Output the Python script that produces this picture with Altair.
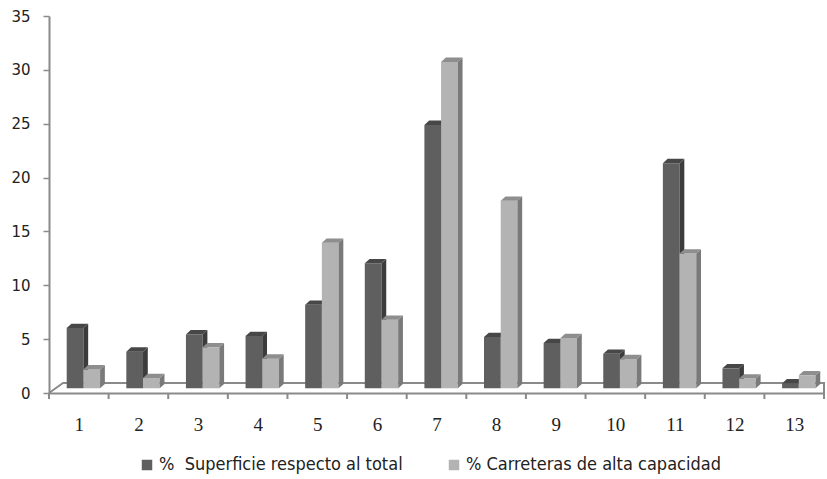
import altair as alt
import pandas as pd

# Category labels and the two series (%)
categories = [str(i) for i in range(1, 14)]
superficie = [5.6, 3.4, 5.0, 4.85, 7.75, 11.6, 24.45, 4.75, 4.2, 3.2, 20.9, 1.85, 0.45]
carreteras = [1.75, 0.95, 3.8, 2.75, 13.5, 6.35, 30.3, 17.4, 4.65, 2.7, 12.5, 0.9, 1.2]

series_names = ["%\u00a0 Superficie respecto al total", "% Carreteras de alta capacidad"]
front_colors = ["#5f5f5f", "#b3b3b3"]
side_colors = ["#3c3c3c", "#7a7a7a"]
top_colors = ["#474747", "#8e8e8e"]

# Pseudo-3D geometry, in scale units
BAR_START = 0.297   # offset of the first column inside its category slot
BAR_W = 0.28        # column width
DEPTH_X = 0.08      # horizontal depth of side/top faces
DEPTH_Y = 0.40      # vertical depth of side/top faces
BASE = 0.44         # columns stand in the middle of the floor
FLOOR_X = 0.235
FLOOR_Y = 0.93

W, H = 775, 377
AXIS_GREY = "#8a8a8a"

x_scale = alt.Scale(domain=[0, len(categories)], nice=False, zero=False)
y_scale = alt.Scale(domain=[0, 35], nice=False)

x_axis = alt.Axis(
    values=[i + 0.5 for i in range(len(categories))],
    labelExpr="format(datum.value + 0.5, 'd')",
    ticks=False, grid=False, title=None,
    domainColor=AXIS_GREY, domainWidth=2,
    labelFont="Liberation Serif", labelFontSize=19, labelColor="#222222",
    labelPadding=22,
)
y_axis = alt.Axis(
    values=list(range(0, 36, 5)), grid=False, title=None,
    tickSize=6, tickColor=AXIS_GREY, tickWidth=1.5,
    domainColor=AXIS_GREY, domainWidth=2,
    labelFont="DejaVu Sans", labelFontSize=15, labelColor="#222222",
    labelPadding=13,
)
color_scale = alt.Scale(domain=series_names, range=front_colors)

front_rows, side_rows, top_rows = [], [], []
for s, values in enumerate([superficie, carreteras]):
    for i, v in enumerate(values):
        x0 = i + BAR_START + s * BAR_W
        x1 = x0 + BAR_W
        top = BASE + v
        bar = f"{s}-{i}"
        front_rows.append(dict(s=s, serie=series_names[s], cat=categories[i],
                               x0=x0, x1=x1, y0=BASE, y1=top))
        side_rows += [
            dict(s=s, bar=bar, x=x1, y=BASE, y2=top),
            dict(s=s, bar=bar, x=x1 + DEPTH_X, y=BASE + DEPTH_Y, y2=top + DEPTH_Y),
        ]
        top_rows += [
            dict(s=s, bar=bar, x=x0, y=top, y2=top),
            dict(s=s, bar=bar, x=x0 + DEPTH_X, y=top, y2=top + DEPTH_Y),
            dict(s=s, bar=bar, x=x1, y=top, y2=top + DEPTH_Y),
            dict(s=s, bar=bar, x=x1 + DEPTH_X, y=top + DEPTH_Y, y2=top + DEPTH_Y),
        ]

front_df = pd.DataFrame(front_rows)
side_df = pd.DataFrame(side_rows)
top_df = pd.DataFrame(top_rows)

n = len(categories)
floor_df = pd.DataFrame({
    "x": [0, FLOOR_X, n, n],
    "y": [0, FLOOR_Y, FLOOR_Y, 0],
    "k": [0, 1, 2, 3],
})
ticks_df = pd.DataFrame({"t": list(range(n + 1))})

floor = alt.Chart(floor_df).mark_line(color=AXIS_GREY, strokeWidth=2).encode(
    x=alt.X("x:Q", scale=x_scale, axis=x_axis),
    y=alt.Y("y:Q", scale=y_scale, axis=y_axis),
    order="k:Q",
)
x_ticks = alt.Chart(ticks_df).mark_rule(color=AXIS_GREY, strokeWidth=2).encode(
    x=alt.X("t:Q", scale=x_scale, axis=x_axis),
    y=alt.value(H),
    y2=alt.value(H + 6),
)

layers = [floor, x_ticks]
for s in range(2):
    front = alt.Chart(front_df[front_df.s == s]).mark_rect().encode(
        x=alt.X("x0:Q", scale=x_scale, axis=x_axis),
        x2="x1:Q",
        y=alt.Y("y0:Q", scale=y_scale, axis=y_axis),
        y2="y1:Q",
        color=alt.Color("serie:N", scale=color_scale, title=None),
    )
    side = alt.Chart(side_df[side_df.s == s]).mark_area(
        orient="vertical", color=side_colors[s]
    ).encode(
        x=alt.X("x:Q", scale=x_scale, axis=x_axis),
        y=alt.Y("y:Q", scale=y_scale, axis=y_axis, stack=None),
        y2="y2:Q",
        detail="bar:N",
    )
    cap = alt.Chart(top_df[top_df.s == s]).mark_area(
        orient="vertical", color=top_colors[s]
    ).encode(
        x=alt.X("x:Q", scale=x_scale, axis=x_axis),
        y=alt.Y("y:Q", scale=y_scale, axis=y_axis, stack=None),
        y2="y2:Q",
        detail="bar:N",
    )
    layers += [front, side, cap]

chart = alt.layer(*layers).properties(
    width=W,
    height=H,
    padding={"left": 49, "top": 16, "right": 3, "bottom": 86},
    autosize=alt.AutoSizeParams(type="none"),
    background="white",
).configure_view(
    stroke=None
).configure_legend(
    orient="none",
    legendX=89,
    legendY=440,
    direction="horizontal",
    symbolType="square",
    symbolSize=110,
    symbolStrokeWidth=0,
    symbolOpacity=1,
    labelFont="DejaVu Sans Condensed, sans-serif",
    labelFontSize=18,
    labelColor="#222222",
    labelOffset=3,
    labelLimit=400,
    columnPadding=42,
)

chart.save("out.html", embed_options={"renderer": "svg", "actions": False})
